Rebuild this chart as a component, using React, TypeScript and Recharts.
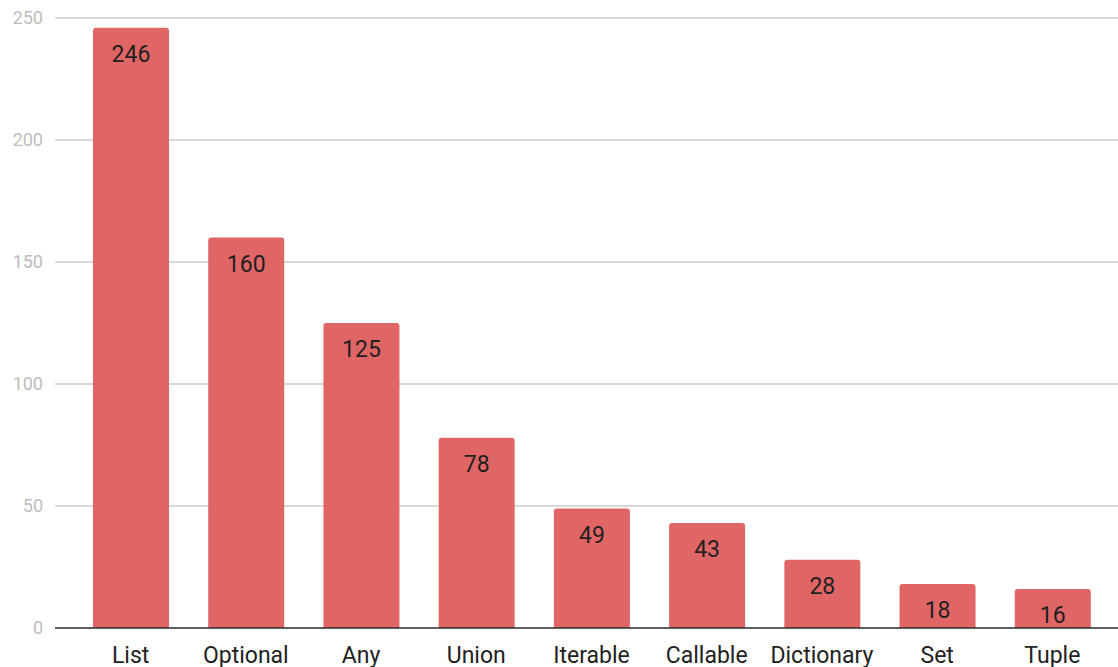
import React from 'react';
import { BarChart, Bar, XAxis, YAxis, CartesianGrid, LabelList } from 'recharts';

// Категории и значения
const TYPES = ['List', 'Optional', 'Any', 'Union', 'Iterable', 'Callable', 'Dictionary', 'Set', 'Tuple'];
const COUNTS = [246, 160, 125, 78, 49, 43, 28, 18, 16];
const Y_TICKS = [0, 50, 100, 150, 200, 250];

const data = TYPES.map((name, i) => ({ name, count: COUNTS[i] }));

const FONT = 'Roboto, "Noto Sans", sans-serif';

const App: React.FC = () => {
  return (
    <div style={{ position: 'absolute', left: 0, top: 0, width: 1118, height: 667, background: '#fff' }}>
      <BarChart
        width={1118}
        height={667}
        data={data}
        margin={{ top: 18, right: 0, bottom: 0, left: 0 }}
        barCategoryGap={0}
      >
        <CartesianGrid vertical={false} stroke="#cccccc" strokeWidth={1.5} />
        <XAxis
          dataKey="name"
          height={39}
          padding={{ left: 18, right: 8 }}
          tickLine={false}
          tickSize={0}
          tickMargin={19}
          axisLine={{ stroke: '#333333', strokeWidth: 1.5 }}
          tick={{ fill: '#222222', fontSize: 23, fontFamily: FONT }}
          interval={0}
        />
        <YAxis
          width={55}
          domain={[0, 250]}
          ticks={Y_TICKS}
          axisLine={false}
          tickLine={false}
          tickSize={0}
          tickMargin={12}
          tick={{ fill: '#bdbdbd', fontSize: 18, fontFamily: FONT }}
        />
        <Bar dataKey="count" fill="#e06666" barSize={76} radius={[3, 3, 0, 0]} isAnimationActive={false}>
          <LabelList
            dataKey="count"
            position="insideTop"
            offset={18}
            fill="#1f1f1f"
            fontSize={23}
            fontFamily={FONT}
          />
        </Bar>
      </BarChart>
    </div>
  );
};

export default App;
